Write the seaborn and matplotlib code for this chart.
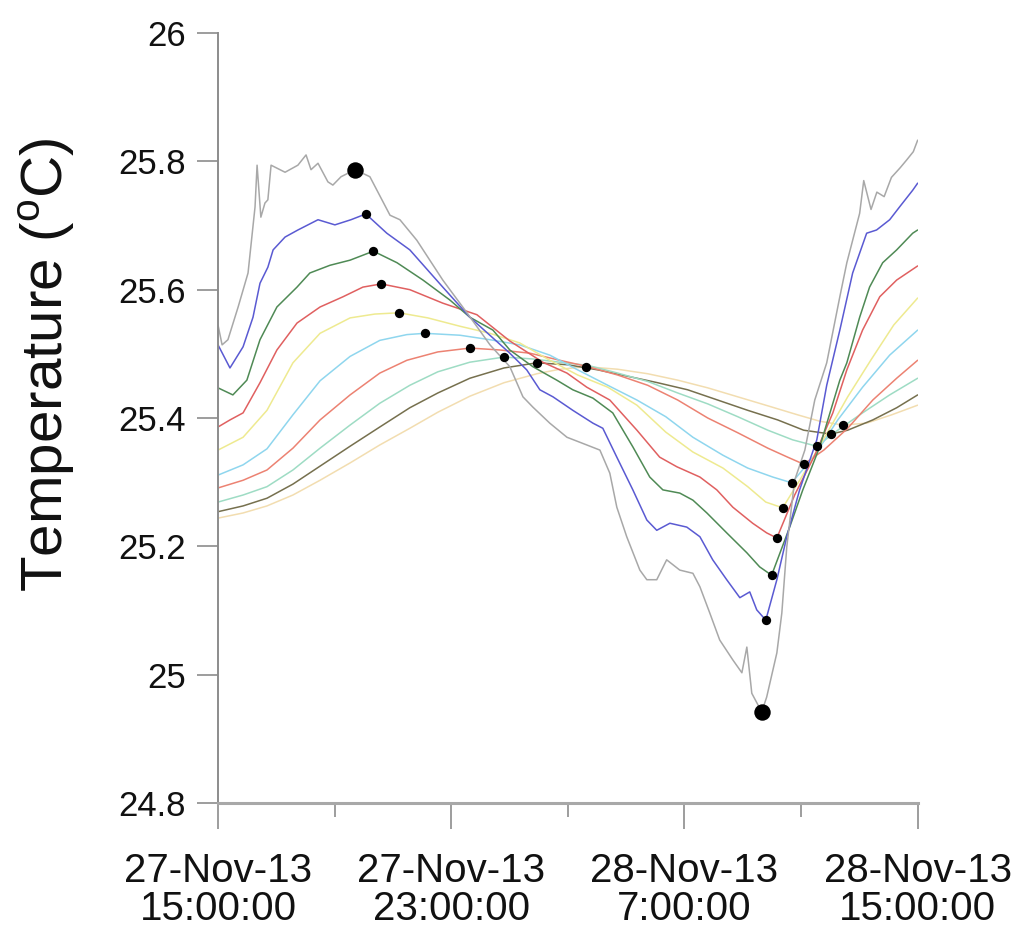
import numpy as np
import pandas as pd
import seaborn as sns
import matplotlib.pyplot as plt

# hours after 27-Nov-13 15:00:00, temperatures in deg C
gray_h = [0, 0.14, 0.34, 0.69, 1.03, 1.27, 1.34, 1.47, 1.61, 1.71, 1.82, 2.30, 2.74, 3.02, 3.19, 3.43,
          3.77, 3.94, 4.22, 4.70, 5.21, 5.90, 6.24, 6.82, 7.71, 8.54, 9.33, 10.01, 10.46, 10.80, 11.38,
          11.97, 12.65, 13.10, 13.44, 13.68, 14.02, 14.47, 14.71, 15.05, 15.39, 15.84, 16.29, 16.53,
          16.87, 17.21, 17.66, 17.97, 18.14, 18.31, 18.65, 18.82, 19.17, 19.34, 19.51, 19.78, 20.13,
          20.47, 20.88, 21.33, 21.57, 22.01, 22.15, 22.40, 22.60, 22.85, 23.10, 23.40, 23.62, 23.85, 24.0]
gray_t = [25.545, 25.514, 25.522, 25.573, 25.626, 25.729, 25.794, 25.713, 25.735, 25.740, 25.794,
          25.783, 25.794, 25.810, 25.787, 25.797, 25.768, 25.763, 25.776, 25.787, 25.776, 25.716,
          25.709, 25.677, 25.615, 25.564, 25.514, 25.480, 25.433, 25.417, 25.392, 25.370, 25.358,
          25.350, 25.314, 25.261, 25.215, 25.163, 25.148, 25.148, 25.179, 25.163, 25.158, 25.137,
          25.096, 25.054, 25.023, 25.003, 25.043, 24.971, 24.942, 24.965, 25.034, 25.096, 25.199,
          25.303, 25.350, 25.428, 25.486, 25.589, 25.642, 25.719, 25.770, 25.725, 25.752, 25.745,
          25.775, 25.790, 25.802, 25.815, 25.833]

blue_h = [0, 0.41, 0.86, 1.20, 1.44, 1.71, 1.89, 2.30, 2.74, 3.43, 4.01, 4.56, 5.07, 5.79, 6.58, 7.71,
          8.64, 10.01, 10.59, 11.04, 11.49, 12.17, 12.86, 13.20, 13.68, 14.23, 14.71, 15.05, 15.50,
          16.08, 16.53, 16.97, 17.45, 17.90, 18.24, 18.48, 18.79, 19.17, 19.51, 19.95, 20.54, 20.88,
          21.33, 21.77, 22.25, 22.59, 23.04, 23.38, 23.83, 24]
blue_t = [25.514, 25.478, 25.511, 25.557, 25.610, 25.635, 25.662, 25.682, 25.693, 25.709, 25.701,
          25.709, 25.718, 25.688, 25.662, 25.604, 25.557, 25.501, 25.475, 25.444, 25.433, 25.412,
          25.392, 25.384, 25.339, 25.288, 25.241, 25.225, 25.236, 25.230, 25.215, 25.179, 25.148,
          25.120, 25.129, 25.101, 25.085, 25.148, 25.215, 25.288, 25.366, 25.451, 25.537, 25.626,
          25.688, 25.693, 25.709, 25.729, 25.755, 25.766]

green_h = [0, 0.51, 0.99, 1.44, 2.02, 2.71, 3.15, 3.84, 4.53, 5.33, 6.14, 7.03, 7.95, 8.64, 9.43, 10.01,
           10.80, 11.62, 12.17, 12.86, 13.54, 14.23, 14.81, 15.26, 15.84, 16.29, 16.77, 17.45, 18.14,
           18.58, 18.99, 19.61, 20.06, 20.64, 21.33, 21.57, 22.01, 22.35, 22.80, 23.28, 23.83, 24]
green_t = [25.447, 25.436, 25.459, 25.522, 25.573, 25.604, 25.626, 25.638, 25.646, 25.660, 25.642,
           25.615, 25.584, 25.557, 25.537, 25.506, 25.480, 25.459, 25.444, 25.431, 25.408, 25.355,
           25.308, 25.288, 25.283, 25.272, 25.252, 25.221, 25.190, 25.168, 25.155, 25.230, 25.288,
           25.355, 25.459, 25.486, 25.557, 25.604, 25.642, 25.662, 25.688, 25.693]

red_h = [0, 0.41, 0.86, 1.44, 2.02, 2.71, 3.50, 4.29, 4.97, 5.60, 6.58, 7.71, 8.88, 10.01, 11.14, 11.97,
         12.65, 13.44, 14.37, 15.15, 15.74, 16.53, 17.11, 17.66, 18.34, 18.82, 19.17, 19.78, 20.47,
         21.09, 21.57, 22.11, 22.70, 23.28, 24]
red_t = [25.386, 25.397, 25.408, 25.455, 25.506, 25.548, 25.573, 25.589, 25.604, 25.609, 25.600,
         25.579, 25.561, 25.520, 25.487, 25.470, 25.448, 25.428, 25.381, 25.339, 25.324, 25.308,
         25.288, 25.261, 25.236, 25.221, 25.213, 25.280, 25.342, 25.408, 25.475, 25.537, 25.589,
         25.615, 25.637]

yellow_h = [0, 0.86, 1.68, 2.57, 3.50, 4.53, 5.38, 6.21, 7.20, 8.30, 9.33, 10.35, 11.38, 12.34, 13.37,
            14.37, 15.36, 16.29, 17.32, 18.17, 18.79, 19.37, 20.06, 20.81, 21.60, 22.39, 23.18, 24]
yellow_t = [25.350, 25.370, 25.412, 25.486, 25.532, 25.556, 25.562, 25.564, 25.556, 25.543, 25.532,
            25.517, 25.490, 25.467, 25.448, 25.420, 25.378, 25.347, 25.322, 25.293, 25.269, 25.260,
            25.311, 25.370, 25.433, 25.490, 25.545, 25.587]

cyan_h = [0, 0.86, 1.68, 2.57, 3.50, 4.53, 5.55, 6.48, 7.10, 8.30, 9.33, 10.35, 11.38, 12.34, 13.37,
          14.37, 15.36, 16.29, 17.32, 18.17, 19.03, 19.68, 20.47, 21.26, 22.11, 23.04, 24]
cyan_t = [25.311, 25.327, 25.352, 25.405, 25.458, 25.496, 25.521, 25.530, 25.532, 25.529, 25.522,
          25.514, 25.498, 25.475, 25.451, 25.428, 25.402, 25.370, 25.342, 25.322, 25.308, 25.299,
          25.342, 25.397, 25.448, 25.498, 25.537]

salmon_h = [0, 0.86, 1.68, 2.57, 3.50, 4.53, 5.55, 6.48, 7.54, 8.64, 9.67, 10.70, 11.72, 12.69, 13.71,
            14.74, 15.77, 16.80, 17.83, 18.86, 19.54, 20.09, 20.78, 21.60, 22.46, 23.28, 24]
salmon_t = [25.291, 25.303, 25.319, 25.353, 25.397, 25.436, 25.470, 25.490, 25.503, 25.509, 25.506,
            25.501, 25.490, 25.480, 25.467, 25.451, 25.428, 25.400, 25.377, 25.353, 25.339, 25.328,
            25.350, 25.384, 25.428, 25.462, 25.490]

mint_h = [0, 0.86, 1.68, 2.57, 3.50, 4.53, 5.55, 6.58, 7.54, 8.64, 9.81, 10.80, 11.72, 12.69, 13.71,
          14.74, 15.77, 16.80, 17.83, 18.86, 19.71, 20.54, 21.26, 22.11, 23.04, 24]
mint_t = [25.269, 25.280, 25.293, 25.319, 25.353, 25.389, 25.423, 25.451, 25.472, 25.487, 25.495,
          25.492, 25.487, 25.482, 25.470, 25.457, 25.439, 25.422, 25.402, 25.381, 25.366, 25.356,
          25.381, 25.408, 25.436, 25.462]

olive_h = [0, 0.86, 1.68, 2.57, 3.50, 4.53, 5.55, 6.58, 7.54, 8.64, 9.81, 10.94, 12.00, 13.03, 14.06,
           15.08, 16.11, 17.14, 18.17, 19.20, 20.09, 21.02, 21.60, 22.46, 23.28, 24]
olive_t = [25.254, 25.263, 25.275, 25.297, 25.325, 25.356, 25.386, 25.416, 25.439, 25.462, 25.478,
           25.486, 25.483, 25.475, 25.465, 25.455, 25.444, 25.428, 25.412, 25.397, 25.381, 25.375,
           25.381, 25.397, 25.416, 25.436]

pale_h = [0, 0.86, 1.68, 2.57, 3.50, 4.53, 5.55, 6.58, 7.54, 8.64, 9.81, 10.94, 11.72, 12.62, 13.71,
          14.74, 15.77, 16.80, 17.83, 18.86, 19.88, 20.64, 21.43, 22.25, 23.11, 24]
pale_t = [25.244, 25.252, 25.263, 25.280, 25.303, 25.330, 25.358, 25.384, 25.409, 25.434, 25.455,
          25.469, 25.476, 25.480, 25.476, 25.469, 25.459, 25.447, 25.433, 25.419, 25.405, 25.395,
          25.389, 25.392, 25.405, 25.420]

# black dots: time of maximum and minimum for each record
peak_h = [4.70, 5.07, 5.33, 5.60, 6.21, 7.10, 8.64, 9.81, 10.94, 12.62]
peak_t = [25.787, 25.718, 25.660, 25.609, 25.564, 25.532, 25.509, 25.495, 25.486, 25.480]
trough_h = [18.65, 18.79, 18.99, 19.17, 19.37, 19.68, 20.09, 20.54, 21.02, 21.43]
trough_t = [24.942, 25.085, 25.155, 25.213, 25.260, 25.299, 25.328, 25.356, 25.375, 25.389]

yticks = [24.8, 25.0, 25.2, 25.4, 25.6, 25.8, 26.0]
ytick_labels = ["24.8", "25", "25.2", "25.4", "25.6", "25.8", "26"]
major_h = [0, 8, 16, 24]
minor_h = [4, 12, 20]
xtick_labels = ["27-Nov-13\n15:00:00", "27-Nov-13\n23:00:00", "28-Nov-13\n7:00:00", "28-Nov-13\n15:00:00"]

start = pd.Timestamp("2013-11-27 15:00:00")

series = {
    "gray": (gray_h, gray_t), "blue": (blue_h, blue_t), "green": (green_h, green_t),
    "red": (red_h, red_t), "yellow": (yellow_h, yellow_t), "cyan": (cyan_h, cyan_t),
    "salmon": (salmon_h, salmon_t), "mint": (mint_h, mint_t), "olive": (olive_h, olive_t),
    "pale": (pale_h, pale_t),
}
colors = {"gray": "#a8a8a8", "blue": "#5a5ad2", "green": "#4f8a55", "red": "#e06060",
          "yellow": "#eeea90", "cyan": "#8fd6ee", "salmon": "#ec8272", "mint": "#9edcc4",
          "olive": "#76704e", "pale": "#f2ddb0"}

frames = []
for name, (h, t) in series.items():
    frames.append(pd.DataFrame({"time": start + pd.to_timedelta(h, unit="h"), "temp": t, "rec": name}))
df = pd.concat(frames, ignore_index=True)

dots = pd.DataFrame({
    "time": start + pd.to_timedelta(peak_h + trough_h, unit="h"),
    "temp": peak_t + trough_t,
    "big": [True] + [False] * 9 + [True] + [False] * 9,
})

sns.set_theme(style="ticks")
plt.rcParams['font.family'] = ['Liberation Sans', 'DejaVu Sans']
plt.rcParams['mathtext.fontset'] = 'custom'
plt.rcParams['mathtext.rm'] = 'Liberation Sans'

fig = plt.figure(figsize=(10.14, 9.51), dpi=100)
ax = fig.add_axes([0.215, 0.1556, 0.690, 0.8097])

# deeper records first so the surface trace sits on top
order = list(series.keys())[::-1]
for name in order:
    sns.lineplot(data=df[df.rec == name], x="time", y="temp", color=colors[name],
                 linewidth=1.1, estimator=None, sort=False, ax=ax)

sns.scatterplot(data=dots[~dots.big], x="time", y="temp", color="black", s=45,
                linewidth=0, zorder=5, ax=ax)
sns.scatterplot(data=dots[dots.big], x="time", y="temp", color="black", s=140,
                linewidth=0, zorder=5, ax=ax)

ax.set_ylim(24.8, 26.0)
ax.set_xlim(start, start + pd.Timedelta(hours=24))
ax.set_yticks(yticks)
ax.set_yticklabels(ytick_labels)
ax.set_xticks(list(start + pd.to_timedelta(major_h, unit="h")))
ax.set_xticklabels(xtick_labels, linespacing=1.0)
ax.set_xticks(list(start + pd.to_timedelta(minor_h, unit="h")), minor=True)
ax.set_xlabel("")
ax.set_ylabel("")

sns.despine(ax=ax)
ax.spines["left"].set_color("#8c8c8c")
ax.spines["left"].set_linewidth(1.4)
ax.spines["bottom"].set_color("#a8a8a8")
ax.spines["bottom"].set_linewidth(2.2)

ax.tick_params(axis="y", direction="out", length=15, width=1.2, color="#8c8c8c",
               labelsize=25, pad=8, labelcolor="#111111")
ax.tick_params(axis="x", which="major", direction="out", length=19, width=1.2, color="#8c8c8c",
               labelsize=29, pad=16, labelcolor="#111111")
ax.tick_params(axis="x", which="minor", direction="out", length=10, width=1.2, color="#8c8c8c")

fig.text(47 / 1014, 1 - 365 / 951, "Temperature ($^{\\rm o}$C)", rotation=90,
         ha="center", va="center", fontsize=42, color="#111111")

fig.savefig("out.png", dpi=100, facecolor="white")
